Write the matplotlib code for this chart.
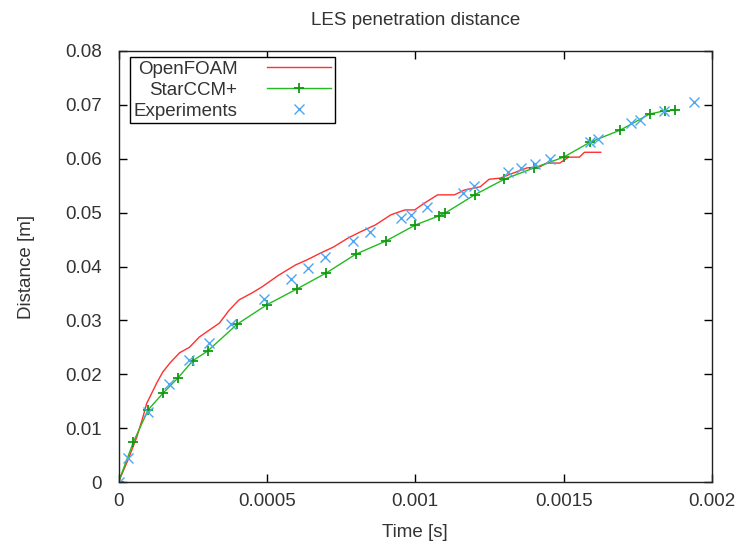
import matplotlib
matplotlib.use('Agg')
import matplotlib.pyplot as plt

# OpenFOAM (LES) penetration, time in ms
of_t = [0, 0.032, 0.062, 0.082, 0.095, 0.112, 0.129, 0.149, 0.175, 0.206,
        0.239, 0.272, 0.306, 0.340, 0.373, 0.406, 0.450, 0.483, 0.540, 0.597,
        0.634, 0.681, 0.724, 0.774, 0.814, 0.865, 0.918, 0.965, 0.998, 1.032,
        1.075, 1.132, 1.166, 1.219, 1.249, 1.286, 1.333, 1.376, 1.420, 1.443,
        1.487, 1.517, 1.553, 1.570, 1.625]
of_d = [0, 0.0041, 0.0084, 0.0120, 0.0146, 0.0165, 0.0184, 0.0204, 0.0222, 0.0240,
        0.0250, 0.0269, 0.0282, 0.0295, 0.0319, 0.0338, 0.0351, 0.0362, 0.0384, 0.0403,
        0.0412, 0.0425, 0.0436, 0.0453, 0.0464, 0.0477, 0.0496, 0.0505, 0.0505, 0.0518,
        0.0533, 0.0533, 0.0542, 0.0548, 0.0562, 0.0564, 0.0574, 0.0583, 0.0585, 0.0592,
        0.0592, 0.0603, 0.0603, 0.0612, 0.0612]

# StarCCM+
sc_t = [0, 0.05, 0.10, 0.15, 0.20, 0.25, 0.30, 0.40, 0.50, 0.60, 0.70, 0.80,
        0.90, 1.00, 1.08, 1.10, 1.20, 1.30, 1.40, 1.50, 1.59, 1.69, 1.79, 1.84, 1.875]
sc_d = [0, 0.0074, 0.0134, 0.0165, 0.0193, 0.0225, 0.0243, 0.0293, 0.0329, 0.0358,
        0.0388, 0.0423, 0.0447, 0.0477, 0.0494, 0.0499, 0.0533, 0.0562, 0.0583, 0.0603,
        0.0631, 0.0653, 0.0683, 0.0689, 0.0690]

# Experiments
ex_t = [0, 0.033, 0.100, 0.171, 0.237, 0.304, 0.378, 0.490, 0.582, 0.638, 0.696,
        0.789, 0.849, 0.953, 0.987, 1.040, 1.162, 1.199, 1.313, 1.357, 1.404, 1.454,
        1.589, 1.616, 1.727, 1.757, 1.838, 1.940]
ex_d = [0, 0.0045, 0.0130, 0.0182, 0.0226, 0.0258, 0.0293, 0.0340, 0.0377, 0.0397,
        0.0418, 0.0447, 0.0464, 0.0490, 0.0496, 0.0510, 0.0537, 0.0550, 0.0575, 0.0583,
        0.0590, 0.0600, 0.0631, 0.0637, 0.0666, 0.0672, 0.0689, 0.0705]

xticks = [0, 0.0005, 0.001, 0.0015, 0.002]
xtick_labels = ['0', '0.0005', '0.001', '0.0015', '0.002']
yticks = [0, 0.01, 0.02, 0.03, 0.04, 0.05, 0.06, 0.07, 0.08]
ytick_labels = ['0', '0.01', '0.02', '0.03', '0.04', '0.05', '0.06', '0.07', '0.08']

plt.rcParams['font.family'] = ['Liberation Sans', 'DejaVu Sans']
plt.rcParams['font.size'] = 13.5

fig = plt.figure(figsize=(7.37, 5.46), dpi=100)
ax = fig.add_axes([0.1608, 0.1172, 0.8053, 0.7894])

ax.plot([t * 1e-3 for t in of_t], of_d, color='#ff3030', linewidth=1.0, label='OpenFOAM')
ax.plot([t * 1e-3 for t in sc_t], sc_d, color='#22bb22', linewidth=1.0, marker='+',
        markersize=7, markeredgewidth=1.3, markeredgecolor='#109a10', label='StarCCM+')
ax.plot([t * 1e-3 for t in ex_t], ex_d, linestyle='none', marker='x', markersize=7.5,
        markeredgewidth=1.0, color='#4fa6f2', label='Experiments')

ax.set_xlim(0, 0.002)
ax.set_ylim(0, 0.08)
ax.set_xticks(xticks)
ax.set_xticklabels(xtick_labels)
ax.set_yticks(yticks)
ax.set_yticklabels(ytick_labels)
ax.tick_params(direction='in', length=6, width=1, top=True, right=True,
               colors='black', labelcolor='#333333')
ax.tick_params(axis='y', pad=12)
ax.tick_params(axis='x', pad=8)
for s in ax.spines.values():
    s.set_linewidth(1.0)
    s.set_color('#222222')

ax.set_title('LES penetration distance', fontsize=13.5, pad=19, color='#333333')
ax.set_xlabel('Time [s]', labelpad=10, color='#333333')
ax.set_ylabel('Distance [m]', labelpad=22, color='#333333')

leg = ax.legend(loc='upper left', bbox_to_anchor=(0.019, 0.986), borderaxespad=0,
                markerfirst=False, fancybox=False, edgecolor='black', framealpha=1,
                handlelength=3.4, handletextpad=1.6, labelspacing=0.2,
                borderpad=0.2, fontsize=13.5)
leg.get_frame().set_linewidth(1.0)
for t in leg.get_texts():
    t.set_color('#333333')

fig.savefig('out.png', dpi=100)
